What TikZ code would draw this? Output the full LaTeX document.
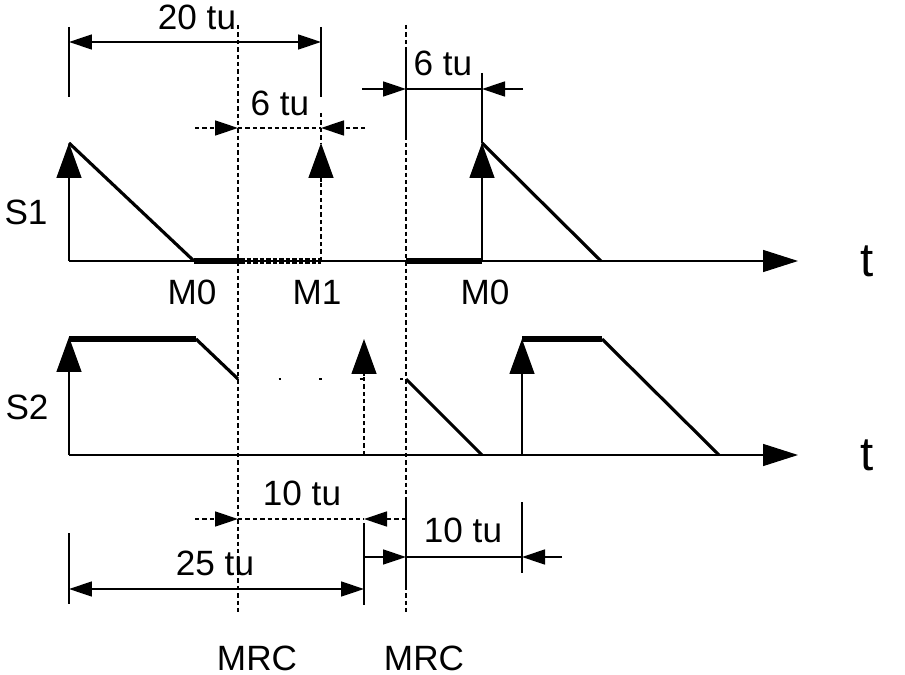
\documentclass[tikz,border=0pt]{standalone}
\usepackage{fontspec}
\setsansfont{Liberation Sans}
\usetikzlibrary{arrows.meta}

\begin{document}
\begin{tikzpicture}[
        x=0.02cm, y=-0.02cm,
        font=\sffamily\fontsize{20}{24}\selectfont,
        thinline/.style={line width=0.8pt},
        signal/.style={line width=1.8pt},
        hold/.style={line width=3.2pt},
        guide/.style={line width=0.8pt, dash pattern=on 2.5pt off 1.7pt},
        sigarrow/.style={line width=0.8pt, -{Triangle[length=0.7cm, width=0.5cm]}},
        axisarrow/.style={line width=0.8pt, -{Triangle[length=0.7cm, width=0.44cm]}},
        dimend/.style={line width=0.8pt, -{Triangle[length=0.46cm, width=0.3cm]}},
        dimboth/.style={line width=0.8pt, {Triangle[length=0.46cm, width=0.3cm]}-{Triangle[length=0.46cm, width=0.3cm]}},
        txt/.style={inner sep=0pt},
        bigt/.style={inner sep=0pt, font=\sffamily\fontsize{27}{30}\selectfont}
    ]
        \useasboundingbox (0,0) rectangle (905,675);
        % time points
        \coordinate (oneO) at (69,261);
        \coordinate (twoO) at (69,455);
        \coordinate (mrcA) at (238,0);
        \coordinate (mrcB) at (406,0);
        % MRC guide lines
        \draw[guide] (mrcA |- 0,25) -- (mrcA |- 0,613);
        \draw[guide] (mrcB |- 0,25) -- (mrcB |- 0,613);
        \draw[thinline] (mrcB |- 0,50) -- (mrcB |- 0,140);
        \draw[thinline] (mrcB |- 0,497) -- (mrcB |- 0,587);
        \node[txt] (mrcAlbl) at (257,658) {MRC};
        \node[txt] (mrcBlbl) at (424,658) {MRC};

        % signal S1
        \node[txt] (s1lbl) at (26,212) {S1};
        \draw[axisarrow] (oneO) -- (798,261);
        \node[bigt] (t1) at (867,261) {t};
        \draw[sigarrow] (oneO) -- (69,143);
        \draw[signal] (69,143) -- (194,261);
        \draw[hold] (194,261) -- (240,261);
        \draw[hold, dash pattern=on 2.8pt off 0.9pt] (240,261) -- (321,261);
        \draw[guide] (321,261) -- (321,180);
        \draw[sigarrow, solid] (321,182) -- (321,143);
        \draw[guide] (321,113) -- (321,143);
        \draw[hold] (406,261) -- (482,261);
        \draw[sigarrow] (482,261) -- (482,143);
        \draw[signal] (482,143) -- (601,261);
        \node[txt] (m0a) at (192,292) {M0};
        \node[txt] (m1) at (317,292) {M1};
        \node[txt] (m0b) at (485,292) {M0};

        % 20 tu
        \draw[thinline] (69,27) -- (69,97);
        \draw[thinline] (321,27) -- (321,97);
        \draw[dimboth] (69,42) -- (321,42);
        \node[txt] (d20) at (197,17) {20 tu};
        % 6 tu (dashed)
        \draw[guide] (238,128) -- (321,128);
        \draw[guide, dimend] (195,128) -- (238,128);
        \draw[guide, dimend] (365,128) -- (321,128);
        \node[txt] (d6a) at (280,103) {6 tu};
        % 6 tu
        \draw[thinline] (482,73) -- (482,143);
        \draw[dimend] (362,89) -- (406,89);
        \draw[thinline] (406,89) -- (482,89);
        \draw[dimend] (523,89) -- (482,89);
        \node[txt] (d6b) at (443,63) {6 tu};

        % signal S2
        \node[txt] (s2lbl) at (27,407) {S2};
        \draw[axisarrow] (twoO) -- (798,455);
        \node[bigt] (t2) at (867,455) {t};
        \draw[sigarrow] (twoO) -- (69,337);
        \draw[hold] (69,339) -- (196,339);
        \draw[signal] (196,339) -- (238,379);
        \draw[thinline, dash pattern=on 1.7pt off 21.4pt] (278.5,379) -- (410,379);
        \draw[guide] (364,455) -- (364,374);
        \draw[sigarrow, solid] (364,376) -- (364,339);
        \draw[signal] (406,379) -- (482,455);
        \draw[sigarrow] (522,455) -- (522,339);
        \draw[hold] (522,339) -- (602,339);
        \draw[signal] (602,339) -- (719,455);

        % 10 tu (dashed)
        \draw[guide] (238,519) -- (364,519);
        \draw[guide, dimend] (195,519) -- (238,519);
        \draw[guide, dimend] (406,519) -- (364,519);
        \node[txt] (d10a) at (302,493) {10 tu};
        % 25 tu
        \draw[thinline] (69,533) -- (69,604);
        \draw[thinline] (364,523) -- (364,605);
        \draw[dimboth] (69,589) -- (364,589);
        \node[txt] (d25) at (215,563) {25 tu};
        % 10 tu
        \draw[dimend] (364,557) -- (406,557);
        \draw[thinline] (406,557) -- (522,557);
        \draw[dimend] (562,557) -- (522,557);
        \draw[thinline] (522,502) -- (522,573);
        \node[txt] (d10b) at (463,530) {10 tu};
    \end{tikzpicture}
\end{document}
